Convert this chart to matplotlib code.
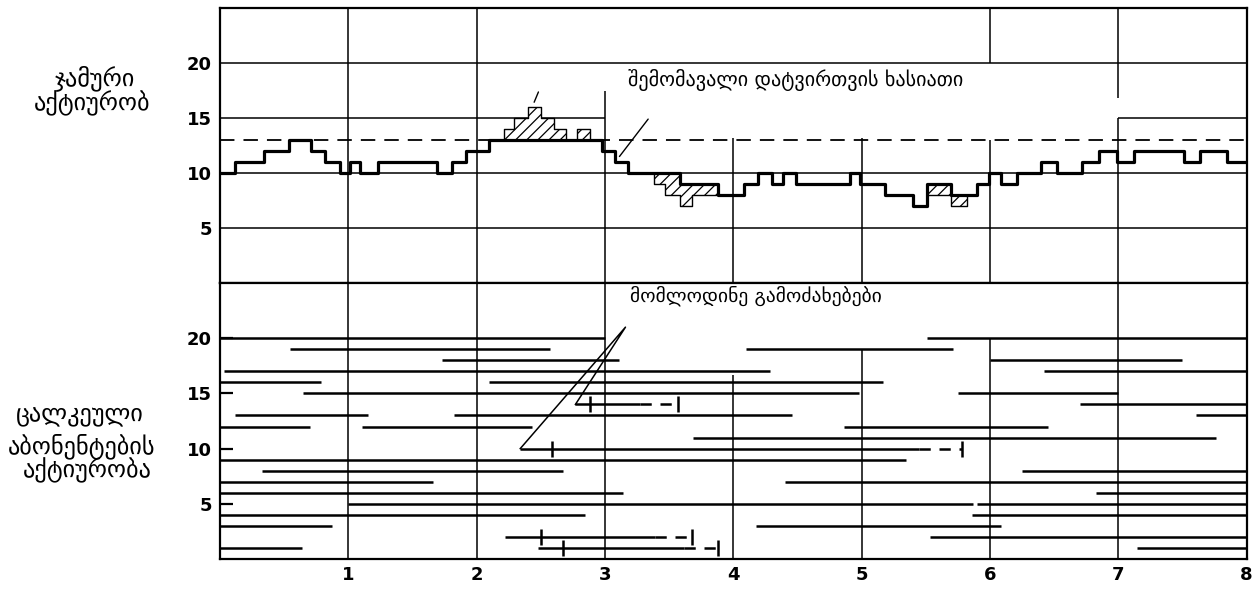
import matplotlib.pyplot as plt

# top panel: total activity (busy lines) as a step curve over time
step_x = [0, 0.117, 0.34, 0.54, 0.71, 0.82, 0.935, 1.01, 1.09, 1.23, 1.69, 1.81, 1.92,
          2.10, 2.21, 2.29, 2.40, 2.50, 2.60, 2.70, 2.78, 2.88, 2.975, 3.08, 3.18, 3.38,
          3.47, 3.585, 3.68, 3.88, 4.08, 4.19, 4.30, 4.39, 4.49, 4.91, 4.99, 5.18, 5.40,
          5.51, 5.70, 5.82, 5.90, 5.99, 6.09, 6.21, 6.40, 6.52, 6.72, 6.85, 6.99, 7.12,
          7.51, 7.64, 7.85, 8.0]
carried = [10, 11, 12, 13, 12, 11, 10, 11, 10, 11, 10, 11, 12,
           13, 13, 13, 13, 13, 13, 13, 13, 13, 12, 11, 10, 10,
           10, 9, 9, 8, 9, 10, 9, 10, 9, 10, 9, 8, 7,
           9, 8, 8, 9, 10, 9, 10, 11, 10, 11, 12, 11, 12,
           11, 12, 11, 11]
offered = [10, 11, 12, 13, 12, 11, 10, 11, 10, 11, 10, 11, 12,
           13, 14, 15, 16, 15, 14, 13, 14, 13, 12, 11, 10, 9,
           8, 7, 8, 8, 9, 10, 9, 10, 9, 10, 9, 8, 7,
           8, 7, 8, 9, 10, 9, 10, 11, 10, 11, 12, 11, 12,
           11, 12, 11, 11]
capacity = 13

# bottom panel: busy intervals of each subscriber
call_row = [20, 20, 19, 19, 18, 18, 17, 17, 16, 16, 15, 15, 14, 13, 13, 13, 12, 12, 12,
            11, 9, 8, 8, 7, 7, 6, 6, 5, 5, 4, 4, 3, 3, 2, 1, 1]
call_start = [0.0, 5.51, 0.545, 4.10, 1.73, 6.0, 0.03, 6.42, 0.0, 2.10, 0.65, 5.755, 6.70,
              0.12, 1.82, 7.61, 0.0, 1.105, 4.86, 3.69, 0.0, 0.325, 6.25, 0.0, 4.40, 0.0,
              6.83, 1.0, 5.90, 0.0, 5.86, 0.0, 4.18, 5.53, 0.0, 7.145]
call_end = [3.0, 8.0, 2.57, 5.715, 3.11, 7.5, 4.29, 8.0, 0.79, 5.17, 4.98, 7.0, 8.0,
            1.155, 4.46, 8.0, 0.70, 2.43, 6.455, 7.76, 5.35, 2.675, 8.0, 1.66, 8.0, 3.14,
            8.0, 5.87, 8.0, 2.845, 8.0, 0.87, 6.09, 8.0, 0.64, 8.0]

# calls that had to wait
wait_row = [14, 10, 2, 1]
wait_arrive = [2.77, 2.34, 2.22, 2.48]
wait_mark = [2.88, 2.585, 2.50, 2.675]
wait_solid = [3.27, 5.45, 3.39, 3.62]
wait_end = [3.57, 5.78, 3.675, 3.88]

yticks = [5, 10, 15, 20]
xticks = [1, 2, 3, 4, 5, 6, 7, 8]

W, H = 1255, 590
fig = plt.figure(figsize=(12.55, 5.9), dpi=100)
x0, x1 = 220 / W, 1246.5 / W
ax_top = fig.add_axes([x0, 1 - 283 / H, x1 - x0, 275 / H])
ax_bot = fig.add_axes([x0, 1 - 559 / H, x1 - x0, 276 / H])

GEO = ["DejaVu Sans"]
tick_font = dict(family="DejaVu Sans", weight="bold", size=13)
GRID = dict(color="black", lw=1.1, zorder=1)

for ax in (ax_top, ax_bot):
    ax.set_xlim(0, 8)
    ax.set_ylim(0, 25)
    for s in ax.spines.values():
        s.set_linewidth(1.6)
    ax.set_yticks(yticks)
    ax.set_yticklabels([str(v) for v in yticks], **tick_font)

# ---- top panel
ax_top.set_xticks([])
ax_top.tick_params(axis="y", length=0, pad=6)
for y in (5, 10, 20):
    ax_top.hlines(y, 0, 8, **GRID)
ax_top.hlines(15, 0, 3.0, **GRID)
ax_top.hlines(15, 7, 8, **GRID)
for x, lo, hi in [(1, 0, 25), (2, 0, 25), (3, 0, 17.5), (4, 0, 13.2), (5, 0, 13.2),
                  (6, 0, 13.0), (6, 20, 25), (7, 0, 15), (7, 16.8, 25)]:
    ax_top.vlines(x, lo, hi, **GRID)
ax_top.axhline(capacity, color="black", lw=1.3, ls=(0, (8, 5)), zorder=2)

plt.rcParams["hatch.linewidth"] = 0.9
ax_top.fill_between(step_x, carried, offered, step="post", facecolor="white",
                    edgecolor="black", hatch="///", lw=1.0, zorder=3)
ax_top.step(step_x, carried, where="post", color="black", lw=2.3, zorder=4)

ax_top.annotate("", xy=(2.44, 16.2), xytext=(2.49, 17.6),
                arrowprops=dict(arrowstyle="-", color="black", lw=1.0))
ax_top.annotate("", xy=(3.10, 11.3), xytext=(3.35, 15.1),
                arrowprops=dict(arrowstyle="-", color="black", lw=1.0))
ax_top.text(3.18, 18.45, "შემომავალი დატვირთვის ხასიათი", family=GEO, fontsize=14.5,
            va="center", ha="left")

# ---- bottom panel
ax_bot.set_xticks(xticks)
ax_bot.set_xticklabels([str(v) for v in xticks], **tick_font)
ax_bot.tick_params(axis="x", length=0, pad=5)
ax_bot.tick_params(axis="y", direction="in", length=9.5, width=1.6, pad=6)
for x, lo, hi in [(1, 0, 25), (2, 0, 25), (3, 0, 25), (4, 0, 16.7), (5, 0, 19.0),
                  (6, 0, 20.0), (7, 0, 25)]:
    ax_bot.vlines(x, lo, hi, **GRID)

ax_bot.hlines(call_row, call_start, call_end, color="black", lw=1.8, zorder=3)

for r, a, m, s, e in zip(wait_row, wait_arrive, wait_mark, wait_solid, wait_end):
    ax_bot.hlines(r, a, s, color="black", lw=1.8, zorder=3)
    ax_bot.hlines(r, s, e, color="black", lw=1.8, ls=(0, (4.5, 3.5)), zorder=3)
    ax_bot.plot([m, e], [r, r], ls="none", marker="|", ms=11, mew=1.8, color="black",
                zorder=3)

ax_bot.plot([2.34, 3.16, 2.77], [10, 21.0, 14], color="black", lw=1.1, zorder=4)
ax_bot.text(3.195, 23.8, "მომლოდინე გამოძახებები", family=GEO, fontsize=14,
            va="center", ha="left")

# ---- side captions
side = dict(family=GEO, fontsize=17.5, ha="center", va="center")
fig.text(95 / W, 1 - 78 / H, "ჯამური", **side)
fig.text(92 / W, 1 - 103 / H, "აქტიურობ", **side)
fig.text(80 / W, 1 - 415 / H, "ცალკეული", **side)
fig.text(82 / W, 1 - 446 / H, "აბონენტების", **side)
fig.text(87 / W, 1 - 470 / H, "აქტიურობა", **side)

fig.savefig("out.png", dpi=100, facecolor="white")
